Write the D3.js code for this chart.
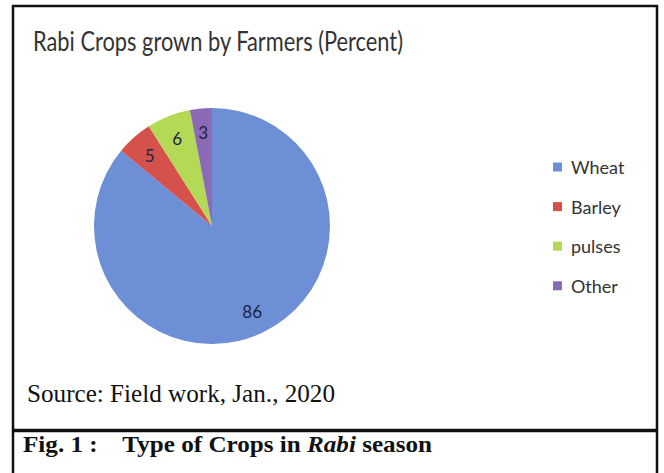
<!DOCTYPE html>
<html>
<head>
<meta charset="utf-8">
<script src="https://cdn.jsdelivr.net/npm/d3@7/dist/d3.min.js"></script>
<style>
  html, body { margin: 0; padding: 0; background: #fff; }
  svg { display: block; }
</style>
</head>
<body>
<script>
// Rabi crops grown by farmers, share in percent
const crops = ["Wheat", "Barley", "pulses", "Other"];
const shares = [86, 5, 6, 3];
const cropColors = ["#6d8fd6", "#d4524b", "#b4d957", "#8c6bb6"];

const W = 664, H = 473;
const sans = "Lato, 'Open Sans', sans-serif";
const serif = "'Liberation Serif', 'Times New Roman', serif";

const svg = d3.select("body").append("svg")
  .attr("width", W).attr("height", H);

svg.append("rect").attr("width", W).attr("height", H).attr("fill", "#fff");

// frame: chart box plus caption panel whose sides run to the bottom
const frame = svg.append("g").attr("stroke", "#111").attr("fill", "none");
frame.append("line").attr("x1", 12).attr("x2", 658).attr("y1", 6).attr("y2", 6).attr("stroke-width", 2.5);
frame.append("line").attr("x1", 13).attr("x2", 13).attr("y1", 5).attr("y2", H).attr("stroke-width", 2.5);
frame.append("line").attr("x1", 657).attr("x2", 657).attr("y1", 5).attr("y2", H).attr("stroke-width", 2.5);
frame.append("line").attr("x1", 12).attr("x2", 658).attr("y1", 430.5).attr("y2", 430.5).attr("stroke-width", 3.5);

// title
svg.append("text")
  .attr("x", 33).attr("y", 51)
  .attr("font-family", sans)
  .attr("font-size", 26)
  .attr("fill", "#333")
  .attr("textLength", 370).attr("lengthAdjust", "spacingAndGlyphs")
  .text("Rabi Crops grown by Farmers (Percent)");

// pie
const cx = 212, cy = 226, R = 118;
const color = d3.scaleOrdinal().domain(crops).range(cropColors);
const pie = d3.pie().value(d => d.v).sort(null);
const arcs = pie(crops.map((c, i) => ({ c, v: shares[i] })));
const arc = d3.arc().innerRadius(0).outerRadius(R);
const labelArc = d3.arc().innerRadius(R * 0.8).outerRadius(R * 0.8);

const g = svg.append("g").attr("transform", `translate(${cx},${cy})`);
g.selectAll("path").data(arcs).join("path")
  .attr("d", arc)
  .attr("fill", d => color(d.data.c));

g.selectAll("text").data(arcs).join("text")
  .attr("transform", d => `translate(${labelArc.centroid(d)})`)
  .attr("text-anchor", "middle")
  .attr("dominant-baseline", "central")
  .attr("font-family", sans)
  .attr("font-size", 17)
  .attr("fill", "#1c2540")
  .text(d => d.data.v);

// legend
const legend = svg.append("g").attr("transform", "translate(553,167)");
const rows = legend.selectAll("g").data(crops).join("g")
  .attr("transform", (d, i) => `translate(0,${i * 39.6})`);
rows.append("rect")
  .attr("x", 0).attr("y", -4.5).attr("width", 9).attr("height", 9)
  .attr("fill", d => color(d));
rows.append("text")
  .attr("x", 18).attr("y", 0)
  .attr("dominant-baseline", "central")
  .attr("font-family", sans)
  .attr("font-size", 18)
  .attr("fill", "#333")
  .text(d => d);

// source note
svg.append("text")
  .attr("x", 27).attr("y", 402)
  .attr("font-family", serif)
  .attr("font-size", 25)
  .attr("fill", "#111")
  .attr("textLength", 308).attr("lengthAdjust", "spacingAndGlyphs")
  .text("Source: Field work, Jan., 2020");

// figure caption
const cap = svg.append("text")
  .attr("x", 23).attr("y", 452)
  .attr("font-family", serif)
  .attr("font-size", 24)
  .attr("font-weight", "bold")
  .attr("fill", "#111")
  .attr("textLength", 409).attr("lengthAdjust", "spacingAndGlyphs");
cap.append("tspan").text("Fig. 1 :\u00a0\u00a0\u00a0 Type of Crops in ");
cap.append("tspan").attr("font-style", "italic").text("Rabi");
cap.append("tspan").text(" season");
</script>
</body>
</html>
